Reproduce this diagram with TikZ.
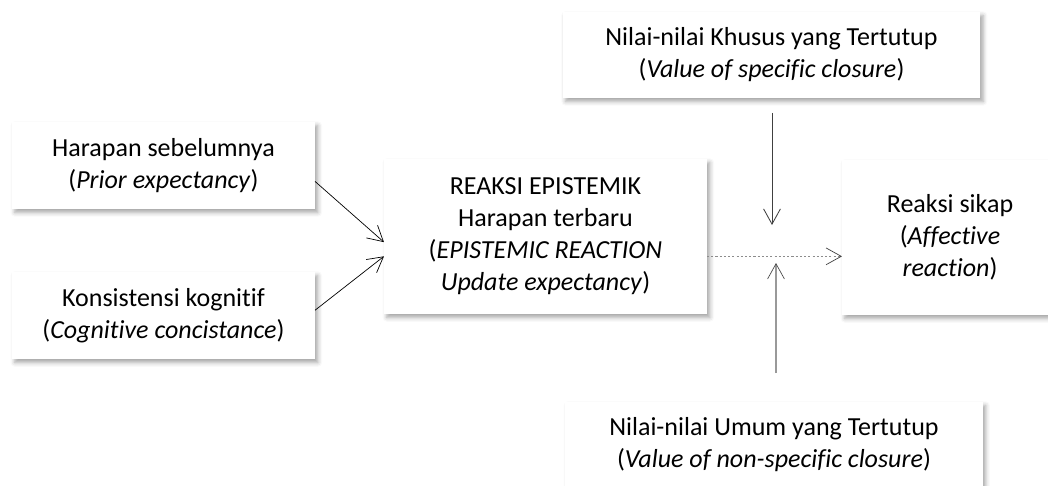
\documentclass[tikz,border=0pt]{standalone}
\usepackage{fontspec}
\setmainfont{Carlito}[Ligatures=NoCommon]
\usepackage{tikz}
\usetikzlibrary{arrows.meta, positioning, shadows.blur}
\tikzstyle{block} = [rectangle, fill=white, align=center, inner sep=0pt, outer sep=0pt, font=\fontsize{18.5}{22.8}\selectfont, blur shadow={shadow xshift=2pt, shadow yshift=-2.5pt, shadow blur radius=3pt, shadow opacity=35}]
\tikzstyle{small} = [minimum width=7.575cm, minimum height=2.175cm]
\tikzstyle{wide} = [minimum width=10.44cm, minimum height=2.15cm]
\tikzstyle{tall} = [minimum height=3.875cm]
\tikzstyle{arrow} = [line width=0.5pt, -{Straight Barb[length=0.38cm, width=0.42cm]}]
\tikzstyle{dotline} = [line width=0.6pt, draw=black!45, dash pattern=on 1.5pt off 1.5pt, -{Straight Barb[length=0.38cm, width=0.42cm, line width=0.5pt, color=black!75]}]

\begin{document}
\begin{tikzpicture}[x=0.025cm, y=-0.025cm]
    \useasboundingbox (0,0) rectangle (1048,486);
    \node (1) [block, small] at (163.5,165.5) {Harapan sebelumnya\\(\textit{Prior expectancy})};
    \node (2) [block, small, below=1.575cm of 1] {Konsistensi kognitif\\(\textit{Cognitive concistance})};
    \node (3) [block, tall, minimum width=8.075cm] at (545.5,236.5) {REAKSI EPISTEMIK\\Harapan terbaru\\(\textit{EPISTEMIC REACTION}\\\textit{Update expectancy})};
    \node (4) [block, wide] at (771.5,55) {Nilai-nilai Khusus yang Tertutup\\(\textit{Value of specific closure})};
    \node (5) [block, tall, minimum width=5.4cm] at (950,237.5) {Reaksi sikap\\(\textit{Affective}\\\textit{reaction})};
    \node (6) [block, wide] at (774,445) {Nilai-nilai Umum yang Tertutup\\(\textit{Value of non-specific closure})};
    % free ends of the two vertical arrows
    \coordinate (a) at (772,113);
    \coordinate (b) at (772,225);
    \coordinate (c) at (776,373);
    \coordinate (d) at (776,263);
    \draw [arrow] (1.-6) -- (3.-178);
    \draw [arrow] (2.2) -- (3.187.6);
    \draw [dotline] (3.-7.6) -- (3.-7.6 -| 5.west);
    \draw [arrow, line width=0.6pt, draw=black!75] (a) -- (b);
    \draw [arrow, line width=1.5pt, draw=black!40, -{Straight Barb[length=0.38cm, width=0.42cm, line width=0.5pt, color=black!70]}] (c) -- (d);
\end{tikzpicture}
\end{document}
